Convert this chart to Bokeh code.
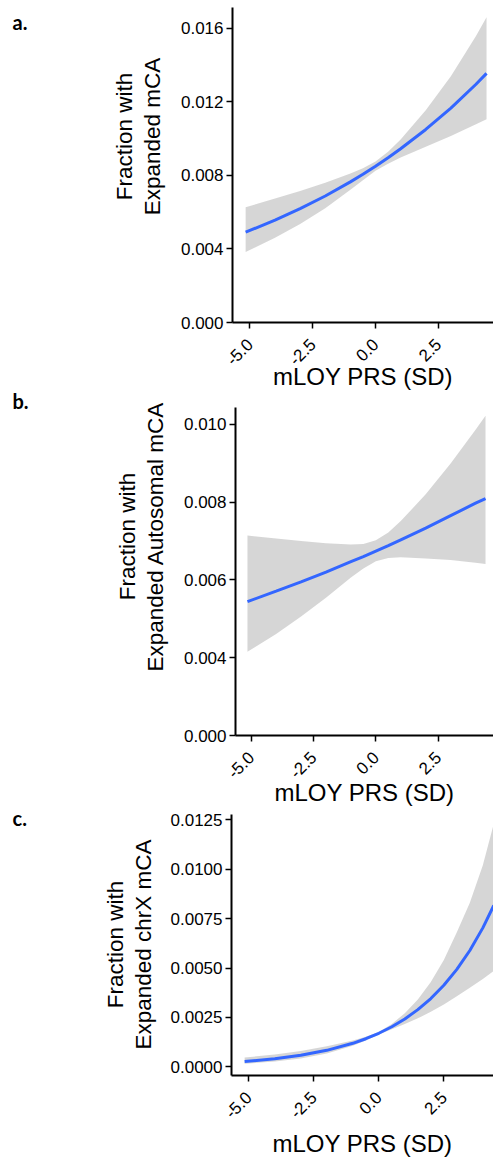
from math import pi
from bokeh.plotting import figure
from bokeh.layouts import column, row
from bokeh.models import Range1d, FixedTicker, NumeralTickFormatter, LinearAxis
from bokeh.core.properties import value
from bokeh.embed import file_html
from bokeh.resources import INLINE

# ---------------- data ----------------
x_ticks = [-5.0, -2.5, 0.0, 2.5]
x_title = "mLOY PRS (SD)"
panel_letters = ["a.", "b.", "c."]

# panel a: Expanded mCA
a_x = [-5.17, -4, -3, -2, -1, -0.5, 0, 0.5, 1, 2, 3, 4, 4.42]
a_fit = [0.00491, 0.00557, 0.00619, 0.00688, 0.00765, 0.00806, 0.00850,
         0.00896, 0.00945, 0.01050, 0.01166, 0.01296, 0.01355]
a_upper = [0.00627, 0.00674, 0.00715, 0.00760, 0.00811, 0.00839, 0.00876,
           0.00929, 0.00996, 0.01154, 0.01339, 0.01558, 0.01660]
a_lower = [0.00384, 0.00461, 0.00536, 0.00622, 0.00722, 0.00774, 0.00825,
           0.00864, 0.00897, 0.00956, 0.01015, 0.01078, 0.01106]
a_yticks = [0.0, 0.004, 0.008, 0.012, 0.016]
a_title = ["Fraction with", "Expanded mCA"]

# panel b: Expanded Autosomal mCA (bottom tick is labelled 0.000 in the original)
b_x = [-5.15, -4, -3, -2, -1, -0.5, 0, 0.5, 1, 2, 3, 4, 4.40]
b_fit = [0.00544, 0.00571, 0.00595, 0.00620, 0.00647, 0.00660, 0.00674,
         0.00688, 0.00703, 0.00733, 0.00765, 0.00797, 0.00809]
b_upper = [0.00714, 0.00706, 0.00700, 0.00694, 0.00691, 0.00692, 0.00702,
           0.00722, 0.00751, 0.00820, 0.00899, 0.00986, 0.01022]
b_lower = [0.00415, 0.00461, 0.00506, 0.00554, 0.00606, 0.00629, 0.00648,
           0.00656, 0.00658, 0.00655, 0.00651, 0.00644, 0.00641]
b_yticks = [0.002, 0.004, 0.006, 0.008, 0.010]
b_ytick_labels = ["0.000", "0.004", "0.006", "0.008", "0.010"]
b_title = ["Fraction with", "Expanded Autosomal mCA"]

# panel c: Expanded chrX mCA
c_x = [-5.16, -4, -3, -2, -1, -0.5, 0, 0.5, 1, 1.5, 2, 2.5, 3, 3.5, 4, 4.42]
c_fit = [0.000272, 0.000411, 0.000586, 0.000836, 0.001192, 0.001424, 0.001700,
         0.002030, 0.002425, 0.002895, 0.003458, 0.004129, 0.004932, 0.005889,
         0.007033, 0.008170]
c_upper = [0.000470, 0.000631, 0.000809, 0.001039, 0.001336, 0.001522, 0.001769,
           0.002170, 0.002718, 0.003415, 0.004297, 0.005409, 0.006811, 0.008300,
           0.010200, 0.012300]
c_lower = [0.000155, 0.000268, 0.000424, 0.000673, 0.001064, 0.001332, 0.001633,
           0.001899, 0.002164, 0.002454, 0.002783, 0.003152, 0.003571, 0.004000,
           0.004450, 0.004850]
c_yticks = [0.0, 0.0025, 0.0050, 0.0075, 0.0100, 0.0125]
c_title = ["Fraction with", "Expanded chrX mCA"]

# ---------------- styling / layout ----------------
FONT = "Liberation Sans"
LETTER_FONT = "Lato"
PAGE_W = 493
PAGE_H = 1159
LETTER_W = 40
LINE_COLOR = "#3366FF"
BAND_COLOR = "#999999"


def bare(fig):
    fig.outline_line_color = None
    fig.xgrid.visible = False
    fig.ygrid.visible = False
    fig.background_fill_color = "white"
    fig.border_fill_color = "white"


def letter_column(geoms):
    t = figure(width=LETTER_W, height=PAGE_H, x_range=Range1d(0, LETTER_W),
               y_range=Range1d(0, PAGE_H), output_backend="svg",
               toolbar_location=None, x_axis_location=None, y_axis_location=None,
               min_border=0, frame_align=False)
    bare(t)
    t.text(x=[12] * len(geoms), y=[PAGE_H - g["letter_y"] for g in geoms],
           text=panel_letters, text_font=value(LETTER_FONT),
           text_font_style="bold", text_font_size=value("20px"),
           text_color="black", text_align="left", text_baseline="alphabetic")
    return t


def title_strip(g, titles):
    # an empty frame whose left side carries two label-only axes (two title lines)
    H = g["height"]
    W = g["split"] - LETTER_W
    half = min(g["ytitle_y"] - g["fig_top"], g["fig_top"] + H - g["ytitle_y"])
    ftop = g["ytitle_y"] - half
    fbot = g["ytitle_y"] + half
    t = figure(width=W, height=H, x_range=Range1d(0, 1), y_range=Range1d(0, 1),
               output_backend="svg", toolbar_location=None,
               x_axis_location=None, y_axis_location=None,
               min_border_left=g["tframe_left"] - LETTER_W, min_border_right=0,
               min_border_top=ftop - g["fig_top"],
               min_border_bottom=g["fig_top"] + H - fbot, frame_align=False)
    bare(t)
    for txt in reversed(titles):          # first added sits next to the frame
        ax = LinearAxis(ticker=FixedTicker(ticks=[]), axis_label=txt)
        ax.axis_line_color = None
        ax.major_tick_line_color = None
        ax.minor_tick_line_color = None
        ax.major_tick_out = 0
        ax.major_tick_in = 0
        ax.major_label_standoff = 0
        ax.major_label_text_font_size = "1px"
        ax.axis_label_standoff = 0
        ax.axis_label_text_font = FONT
        ax.axis_label_text_font_style = "normal"
        ax.axis_label_text_font_size = "22.5px"
        ax.axis_label_text_color = "black"
        t.add_layout(ax, "left")
    return t


def make_panel(g, xs, fit, lo, hi, yticks, yfmt, overrides):
    p = figure(width=PAGE_W - g["split"], height=g["height"],
               x_range=Range1d(g["x0"], g["x1"]), y_range=Range1d(g["y0"], g["y1"]),
               output_backend="svg", toolbar_location=None,
               min_border_left=g["left"] - g["split"], min_border_right=0,
               min_border_top=g["top"] - g["fig_top"],
               min_border_bottom=g["fig_top"] + g["height"] - g["bottom"],
               frame_align=False)
    bare(p)

    p.varea(x=xs, y1=lo, y2=hi, fill_color=BAND_COLOR, fill_alpha=0.4)
    p.line(x=xs, y=fit, line_color=LINE_COLOR, line_width=3)

    for ax in (p.xaxis[0], p.yaxis[0]):
        ax.axis_line_color = "black"
        ax.axis_line_width = 2
        ax.major_tick_line_color = "black"
        ax.major_tick_line_width = 1.5
        ax.major_tick_out = 6
        ax.major_tick_in = 0
        ax.minor_tick_line_color = None
        ax.major_label_text_font = FONT
        ax.major_label_text_color = "black"

    p.xaxis.ticker = FixedTicker(ticks=x_ticks)
    p.xaxis.formatter = NumeralTickFormatter(format="0.0")
    p.xaxis.major_label_orientation = pi / 4
    p.xaxis.major_label_text_font_size = "17px"
    p.xaxis.major_label_standoff = 13
    p.xaxis.axis_label = x_title
    p.xaxis.axis_label_text_font = FONT
    p.xaxis.axis_label_text_font_style = "normal"
    p.xaxis.axis_label_text_font_size = "24px"
    p.xaxis.axis_label_text_color = "black"
    p.xaxis.axis_label_standoff = g["xtitle_standoff"]

    p.yaxis.ticker = FixedTicker(ticks=yticks)
    p.yaxis.formatter = NumeralTickFormatter(format=yfmt)
    if overrides:
        p.yaxis.major_label_overrides = overrides
    p.yaxis.major_label_text_font_size = "17px"
    p.yaxis.major_label_standoff = 3
    return p


geom_a = dict(fig_top=0, height=392, top=7, bottom=324, left=232, split=170,
              x0=-5.693, x1=4.697, y0=0.0, y1=0.017135,
              letter_y=21.5, tframe_left=164, ytitle_y=136,
              xtitle_standoff=-11)
geom_b = dict(fig_top=392, height=416, top=407, bottom=737, left=235, split=172,
              x0=-5.63, x1=4.72, y0=0.002, y1=0.01043,
              letter_y=400.5, tframe_left=167, ytitle_y=536,
              xtitle_standoff=-8)
geom_c = dict(fig_top=808, height=351, top=814, bottom=1077, left=231, split=165,
              x0=-5.665, x1=4.41, y0=-0.000437, y1=0.01277,
              letter_y=817.5, tframe_left=155, ytitle_y=944,
              xtitle_standoff=3)

rows = []
for g, xs, fit, lo, hi, yt, fmt, ov, titles in [
        (geom_a, a_x, a_fit, a_lower, a_upper, a_yticks, "0.000", None, a_title),
        (geom_b, b_x, b_fit, b_lower, b_upper, b_yticks, "0.000",
         {b_yticks[0]: b_ytick_labels[0]}, b_title),
        (geom_c, c_x, c_fit, c_lower, c_upper, c_yticks, "0.0000", None, c_title)]:
    rows.append(row(title_strip(g, titles),
                    make_panel(g, xs, fit, lo, hi, yt, fmt, ov), spacing=0))

layout = row(letter_column([geom_a, geom_b, geom_c]), column(*rows, spacing=0),
             spacing=0)
open("out.html", "w").write(file_html(layout, INLINE))
